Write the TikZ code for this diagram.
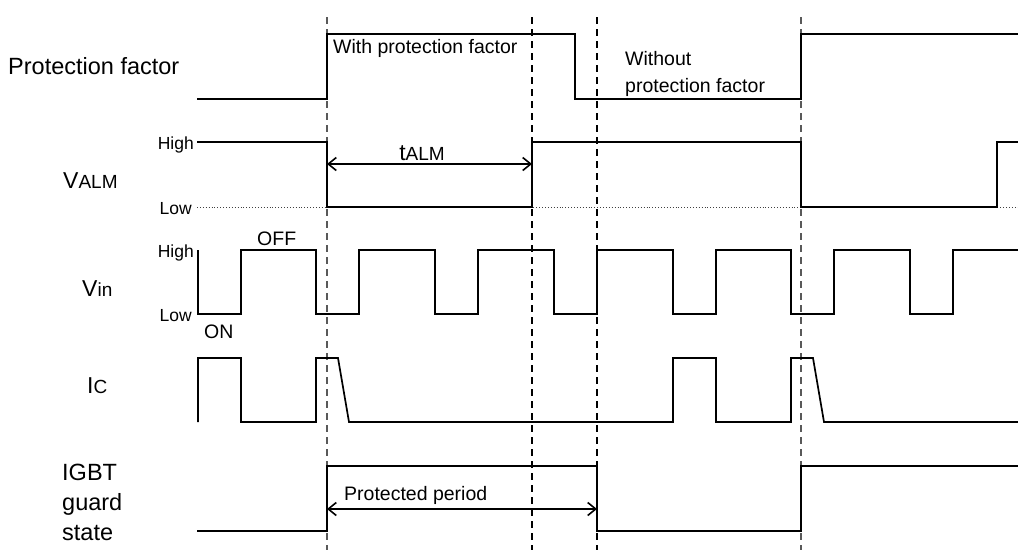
\documentclass[tikz,border=0pt]{standalone}
\usepackage{fontspec}
\setmainfont{Liberation Sans}
\usepackage{tikz}
\usetikzlibrary{arrows.meta, positioning}
\newcommand{\mainsz}[1]{{\fontsize{23}{27}\selectfont #1}}
\newcommand{\subsz}[1]{{\fontsize{19}{22}\selectfont #1}}

\tikzset{
  sig/.style={line width=1.7pt, black, line join=miter},
  tmark/.style={line width=1.6pt, black, dash pattern=on 7pt off 5pt},
  tmarkgray/.style={line width=1.1pt, black!65, dash pattern=on 7pt off 5pt},
  lowdot/.style={line width=0.9pt, black!75, dotted},
  spanarrow/.style={line width=1.6pt, {Straight Barb[length=8pt,width=13pt]}-{Straight Barb[length=8pt,width=13pt]}},
  lbl/.style={inner sep=0pt, font=\fontsize{23.5}{28}\selectfont},
  ann/.style={inner sep=0pt, font=\fontsize{19.5}{23}\selectfont},
  lvl/.style={inner sep=0pt, font=\fontsize{17.5}{21}\selectfont}
}

\begin{document}
\begin{tikzpicture}[x=1pt,y=-1pt]
\useasboundingbox (0,0) rectangle (1018,550);
% time marks
\foreach \tx in {327,801}
  \draw[tmarkgray] (\tx,17) -- (\tx,550);
\foreach \tx in {532,597}
  \draw[tmark] (\tx,17) -- (\tx,550);
% row names
\node[lbl, anchor=base west] (pfname) at (8,74) {Protection factor};
\node[inner sep=0pt, anchor=base west] (valmname) at (63,188) {\mainsz{V}\subsz{ALM}};
\node[inner sep=0pt, anchor=base west] (vinname) at (82,296) {\mainsz{V}\subsz{in}};
\node[inner sep=0pt, anchor=base west] (icname) at (87,393) {\mainsz{I}\subsz{C}};
\node[lbl, anchor=base west] (igbt1) at (62,480) {IGBT};
\node[lbl, anchor=base west] (igbt2) at (62,510) {guard};
\node[lbl, anchor=base west] (igbt3) at (62,540) {state};
% levels
\node[lvl, anchor=base east] (valmhigh) at (194,149) {High};
\node[lvl, anchor=base east] (valmlow) at (192,214) {Low};
\node[lvl, anchor=base east] (vinhigh) at (194,257) {High};
\node[lvl, anchor=base east] (vinlow) at (192,321) {Low};
\node[ann, anchor=base west] (off) at (257,245) {OFF};
\node[ann, anchor=base west] (on) at (204,338) {ON};
% protection factor
\draw[sig] (197,99) -- (327,99) -- (327,34) -- (575,34) -- (575,99) -- (801,99) -- (801,34) -- (1018,34);
\node[ann, anchor=base west] (withpf) at (333,53) {With protection factor};
\node[ann, anchor=base west] (without1) at (625,65) {Without};
\node[ann, anchor=base west] (without2) at (625,92) {protection factor};
% VALM
\draw[lowdot] (197,207) -- (1018,207);
\draw[sig] (197,142) -- (327,142) -- (327,207) -- (532,207) -- (532,142) -- (801,142) -- (801,207) -- (997,207) -- (997,142) -- (1018,142);
\coordinate (talma) at (327,164);
\coordinate (talmb) at (532,164);
\draw[spanarrow] (talma) -- (talmb);
\node[inner sep=0pt, anchor=base] (talm) at (422,160) {\mainsz{t}\subsz{ALM}};
% Vin
\draw[sig] (198,250) -- (198,314) -- (241,314) -- (241,250) -- (316,250) -- (316,314) -- (359,314) -- (359,250) -- (435,250) -- (435,314) -- (478,314) -- (478,250) -- (554,250) -- (554,314) -- (597,314) -- (597,250) -- (673,250) -- (673,314) -- (716,314) -- (716,250) -- (791,250) -- (791,314) -- (834,314) -- (834,250) -- (910,250) -- (910,314) -- (953,314) -- (953,250) -- (1018,250);
% IC
\draw[sig] (198,422) -- (198,358) -- (241,358) -- (241,422) -- (316,422) -- (316,358) -- (338,358) -- (349,422) -- (673,422) -- (673,358) -- (716,358) -- (716,422) -- (791,422) -- (791,358) -- (813,358) -- (824,422) -- (1018,422);
% IGBT guard state
\draw[sig] (197,531) -- (327,531) -- (327,466) -- (597,466) -- (597,531) -- (801,531) -- (801,466) -- (1018,466);
\coordinate (prota) at (327,509);
\coordinate (protb) at (597,509);
\draw[spanarrow] (prota) -- (protb);
\node[ann, anchor=base west] (prot) at (344,500) {Protected period};
\end{tikzpicture}
\end{document}
